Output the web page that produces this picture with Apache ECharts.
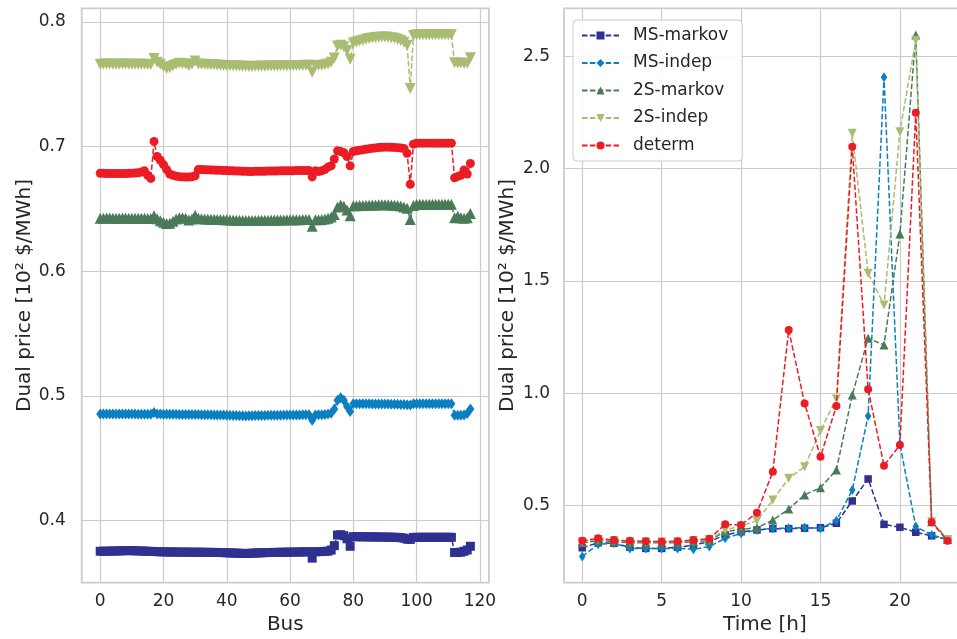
<!DOCTYPE html>
<html>
<head>
<meta charset="utf-8">
<script src="https://cdn.jsdelivr.net/npm/echarts@6/dist/echarts.min.js"></script>
<style>
  html, body { margin: 0; padding: 0; background: #ffffff; }
  #chart { width: 957px; height: 639px; }
</style>
</head>
<body>
<div id="chart"></div>
<script>
// ---- Dual prices per bus (left panel), one value per bus 0..117 ----
const busMsMarkov = [
  0.3755, 0.3755, 0.3756, 0.3756, 0.3757, 0.3757, 0.3758, 0.3759, 0.3760, 0.3760,
  0.3760, 0.3759, 0.3758, 0.3757, 0.3756, 0.3755, 0.3754, 0.3753, 0.3752, 0.3751,
  0.3750, 0.3750, 0.3749, 0.3749, 0.3749, 0.3748, 0.3748, 0.3748, 0.3748, 0.3747,
  0.3748, 0.3747, 0.3747, 0.3747, 0.3746, 0.3746, 0.3746, 0.3745, 0.3745, 0.3744,
  0.3743, 0.3742, 0.3741, 0.3740, 0.3739, 0.3738, 0.3737, 0.3738, 0.3740, 0.3741,
  0.3742, 0.3743, 0.3744, 0.3745, 0.3745, 0.3746, 0.3746, 0.3747, 0.3747, 0.3748,
  0.3748, 0.3748, 0.3749, 0.3749, 0.3750, 0.3750, 0.3751, 0.3700, 0.3751, 0.3752,
  0.3753, 0.3754, 0.3756, 0.3765, 0.3800, 0.3885, 0.3888, 0.3880, 0.3855, 0.3795,
  0.3872, 0.3872, 0.3871, 0.3871, 0.3871, 0.3870, 0.3870, 0.3870, 0.3869, 0.3869,
  0.3869, 0.3868, 0.3868, 0.3867, 0.3866, 0.3864, 0.3860, 0.3852, 0.3850, 0.3866,
  0.3867, 0.3867, 0.3867, 0.3867, 0.3867, 0.3867, 0.3867, 0.3867, 0.3867, 0.3867,
  0.3867, 0.3867, 0.3745, 0.3745, 0.3748, 0.3755, 0.3765, 0.3795
];
const busMsIndep = [
  0.4855, 0.4855, 0.4856, 0.4856, 0.4856, 0.4855, 0.4855, 0.4856, 0.4856, 0.4855,
  0.4855, 0.4855, 0.4854, 0.4854, 0.4854, 0.4853, 0.4853, 0.4868, 0.4856, 0.4855,
  0.4854, 0.4854, 0.4853, 0.4853, 0.4853, 0.4852, 0.4852, 0.4852, 0.4851, 0.4851,
  0.4852, 0.4851, 0.4850, 0.4850, 0.4849, 0.4849, 0.4848, 0.4848, 0.4847, 0.4847,
  0.4846, 0.4845, 0.4844, 0.4843, 0.4842, 0.4841, 0.4840, 0.4841, 0.4842, 0.4843,
  0.4843, 0.4844, 0.4844, 0.4845, 0.4845, 0.4846, 0.4846, 0.4846, 0.4847, 0.4847,
  0.4847, 0.4848, 0.4848, 0.4848, 0.4849, 0.4849, 0.4850, 0.4805, 0.4848, 0.4850,
  0.4850, 0.4852, 0.4855, 0.4862, 0.4895, 0.4965, 0.4985, 0.4965, 0.4915, 0.4875,
  0.4938, 0.4938, 0.4938, 0.4937, 0.4937, 0.4937, 0.4936, 0.4936, 0.4936, 0.4935,
  0.4935, 0.4935, 0.4934, 0.4934, 0.4933, 0.4932, 0.4931, 0.4929, 0.4927, 0.4937,
  0.4938, 0.4938, 0.4938, 0.4938, 0.4938, 0.4938, 0.4938, 0.4938, 0.4938, 0.4938,
  0.4938, 0.4938, 0.4845, 0.4845, 0.4846, 0.4848, 0.4860, 0.4895
];
const bus2sMarkov = [
  0.6425, 0.6425, 0.6426, 0.6426, 0.6425, 0.6425, 0.6425, 0.6426, 0.6426, 0.6425,
  0.6425, 0.6425, 0.6424, 0.6424, 0.6424, 0.6423, 0.6423, 0.6445, 0.6420, 0.6405,
  0.6392, 0.6383, 0.6385, 0.6400, 0.6418, 0.6428, 0.6428, 0.6425, 0.6410, 0.6418,
  0.6448, 0.6425, 0.6420, 0.6419, 0.6418, 0.6417, 0.6416, 0.6415, 0.6414, 0.6413,
  0.6412, 0.6411, 0.6410, 0.6409, 0.6408, 0.6407, 0.6406, 0.6406, 0.6407, 0.6407,
  0.6408, 0.6408, 0.6409, 0.6409, 0.6410, 0.6410, 0.6410, 0.6411, 0.6411, 0.6412,
  0.6412, 0.6412, 0.6413, 0.6413, 0.6414, 0.6414, 0.6415, 0.6360, 0.6412, 0.6412,
  0.6415, 0.6418, 0.6425, 0.6435, 0.6455, 0.6515, 0.6532, 0.6522, 0.6490, 0.6445,
  0.6525, 0.6526, 0.6527, 0.6528, 0.6529, 0.6530, 0.6531, 0.6532, 0.6533, 0.6534,
  0.6534, 0.6533, 0.6532, 0.6530, 0.6528, 0.6524, 0.6515, 0.6505, 0.6415, 0.6528,
  0.6537, 0.6537, 0.6537, 0.6537, 0.6537, 0.6537, 0.6537, 0.6537, 0.6537, 0.6537,
  0.6537, 0.6537, 0.6428, 0.6440, 0.6428, 0.6425, 0.6428, 0.6462
];
const bus2sIndep = [
  0.7660, 0.7660, 0.7661, 0.7661, 0.7660, 0.7660, 0.7660, 0.7661, 0.7661, 0.7660,
  0.7660, 0.7660, 0.7659, 0.7659, 0.7659, 0.7658, 0.7658, 0.7705, 0.7675, 0.7660,
  0.7640, 0.7625, 0.7632, 0.7648, 0.7658, 0.7668, 0.7665, 0.7662, 0.7650, 0.7660,
  0.7685, 0.7662, 0.7660, 0.7659, 0.7657, 0.7656, 0.7655, 0.7653, 0.7652, 0.7650,
  0.7649, 0.7648, 0.7647, 0.7646, 0.7645, 0.7644, 0.7643, 0.7642, 0.7642, 0.7643,
  0.7643, 0.7644, 0.7644, 0.7645, 0.7645, 0.7646, 0.7646, 0.7647, 0.7647, 0.7648,
  0.7648, 0.7649, 0.7649, 0.7650, 0.7650, 0.7651, 0.7652, 0.7595, 0.7648, 0.7650,
  0.7652, 0.7655, 0.7662, 0.7675, 0.7710, 0.7805, 0.7812, 0.7800, 0.7770, 0.7700,
  0.7830, 0.7838, 0.7845, 0.7852, 0.7860, 0.7865, 0.7870, 0.7874, 0.7876, 0.7878,
  0.7878, 0.7876, 0.7872, 0.7868, 0.7860, 0.7850, 0.7835, 0.7812, 0.7465, 0.7890,
  0.7895, 0.7895, 0.7895, 0.7895, 0.7895, 0.7895, 0.7895, 0.7895, 0.7895, 0.7895,
  0.7895, 0.7895, 0.7672, 0.7668, 0.7670, 0.7665, 0.7668, 0.7712
];
const busDeterm = [
  0.6785, 0.6785, 0.6784, 0.6784, 0.6784, 0.6784, 0.6783, 0.6783, 0.6784, 0.6785,
  0.6786, 0.6788, 0.6790, 0.6795, 0.6805, 0.6770, 0.6744, 0.7041, 0.6920, 0.6890,
  0.6855, 0.6815, 0.6780, 0.6770, 0.6762, 0.6758, 0.6756, 0.6755, 0.6755, 0.6757,
  0.6765, 0.6815, 0.6815, 0.6814, 0.6813, 0.6812, 0.6811, 0.6810, 0.6809, 0.6808,
  0.6807, 0.6806, 0.6805, 0.6804, 0.6803, 0.6802, 0.6801, 0.6800, 0.6800, 0.6801,
  0.6801, 0.6802, 0.6802, 0.6803, 0.6803, 0.6804, 0.6804, 0.6805, 0.6805, 0.6806,
  0.6806, 0.6806, 0.6807, 0.6807, 0.6807, 0.6808, 0.6808, 0.6756, 0.6805, 0.6800,
  0.6805, 0.6815, 0.6835, 0.6845, 0.6900, 0.6965, 0.6960, 0.6950, 0.6920, 0.6845,
  0.6960, 0.6966, 0.6970, 0.6974, 0.6978, 0.6982, 0.6986, 0.6989, 0.6992, 0.6994,
  0.6995, 0.6995, 0.6994, 0.6993, 0.6991, 0.6988, 0.6985, 0.6945, 0.6697, 0.7019,
  0.7027, 0.7027, 0.7027, 0.7027, 0.7027, 0.7027, 0.7027, 0.7027, 0.7027, 0.7027,
  0.7027, 0.7027, 0.6749, 0.6760, 0.6770, 0.6812, 0.6780, 0.6864
];

// ---- Dual prices per hour (right panel) ----
const hours = [0, 1, 2, 3, 4, 5, 6, 7, 8, 9, 10, 11, 12, 13, 14, 15, 16, 17, 18, 19, 20, 21, 22, 23];
const hourMsMarkov = [0.313, 0.335, 0.333, 0.315, 0.310, 0.310, 0.315, 0.325, 0.340, 0.370, 0.384, 0.392,
                      0.398, 0.398, 0.400, 0.402, 0.422, 0.521, 0.619, 0.417, 0.404, 0.382, 0.366, 0.350];
const hourMsIndep = [0.274, 0.328, 0.333, 0.310, 0.310, 0.310, 0.310, 0.306, 0.318, 0.355, 0.377, 0.392,
                     0.400, 0.400, 0.402, 0.400, 0.433, 0.570, 0.899, 2.406, 0.775, 0.407, 0.370, 0.350];
const hour2sMarkov = [0.335, 0.345, 0.340, 0.335, 0.335, 0.335, 0.335, 0.340, 0.345, 0.385, 0.395, 0.402,
                      0.436, 0.485, 0.548, 0.580, 0.659, 0.992, 1.245, 1.215, 1.709, 2.594, 0.429, 0.350];
const hour2sIndep = [0.340, 0.350, 0.345, 0.340, 0.340, 0.340, 0.340, 0.345, 0.350, 0.392, 0.410, 0.433,
                     0.525, 0.622, 0.673, 0.834, 0.975, 2.157, 1.534, 1.393, 2.164, 2.571, 0.429, 0.350];
const hourDeterm = [0.344, 0.355, 0.347, 0.344, 0.342, 0.340, 0.342, 0.347, 0.353, 0.417, 0.414, 0.469,
                    0.651, 1.282, 0.955, 0.718, 0.943, 2.097, 1.018, 0.678, 0.770, 2.248, 0.426, 0.344];

// ---- Tick labels ----
const busTicks = [0, 20, 40, 60, 80, 100, 120];
const busPriceTicks = [0.4, 0.5, 0.6, 0.7, 0.8];
const hourTicks = [0, 5, 10, 15, 20];
const hourPriceTicks = [0.5, 1.0, 1.5, 2.0, 2.5];

const seriesNames = ['MS-markov', 'MS-indep', '2S-markov', '2S-indep', 'determ'];

// ---- Styling ----
const FONT = 'DejaVu Sans';
const TEXT = '#262626';
const EDGE = '#cccccc';
const colors = ['#2e3192', '#0a7fc2', '#4a7a58', '#a9bc72', '#ec1c24'];
const symbols = ['rect', 'diamond', 'triangle', 'triangle', 'circle'];
const rotations = [0, 0, 0, 180, 0];
const dash = [5.5, 2.4];

const busValues = [busMsMarkov, busMsIndep, bus2sMarkov, bus2sIndep, busDeterm];
const hourValues = [hourMsMarkov, hourMsIndep, hour2sMarkov, hour2sIndep, hourDeterm];
const busSymbolSize = [9, [8, 11], 11, 11, 9];
const hourSymbolSize = [7.5, [6.5, 10], 9, 9, 8];

function lineSeries(k, data, idx, size) {
  return {
    name: seriesNames[k],
    type: 'line',
    xAxisIndex: idx,
    yAxisIndex: idx,
    data: data,
    symbol: symbols[k],
    symbolRotate: rotations[k],
    symbolSize: size,
    showSymbol: true,
    showAllSymbol: true,
    z: 2 + k * 0.01,
    lineStyle: { color: colors[k], width: 1.5, type: dash },
    itemStyle: { color: colors[k], borderWidth: 0 },
    emphasis: { disabled: true }
  };
}

const series = [];
// right panel first so the legend picks up its marker styles
hourValues.forEach((vals, k) => {
  series.push(lineSeries(k, vals.map((v, i) => [hours[i], v]), 1, hourSymbolSize[k]));
});
busValues.forEach((vals, k) => {
  series.push(lineSeries(k, vals.map((v, i) => [i, v]), 0, busSymbolSize[k]));
});

function valueAxis(opts) {
  return Object.assign({
    type: 'value',
    axisLine: { show: false },
    axisTick: { show: false, customValues: opts.ticks },
    splitLine: { show: true, lineStyle: { color: EDGE, width: 1.2 } },
    axisLabel: {
      customValues: opts.ticks,
      color: TEXT, fontFamily: FONT, fontSize: 17, margin: opts.margin,
      formatter: opts.fmt
    },
    nameLocation: 'middle',
    nameTextStyle: { color: TEXT, fontFamily: FONT, fontSize: 20 }
  }, opts.extra);
}

const chart = echarts.init(document.getElementById('chart'), null, { renderer: 'canvas' });
chart.setOption({
  animation: false,
  backgroundColor: '#ffffff',
  textStyle: { fontFamily: FONT },
  grid: [
    { left: 81.7, top: 8.3, width: 407.2, height: 574.4, show: true, borderColor: EDGE, borderWidth: 1.8,
      backgroundColor: 'transparent', outerBoundsMode: 'none', containLabel: false },
    { left: 564, top: 8.3, width: 401.8, height: 574.4, show: true, borderColor: EDGE, borderWidth: 1.8,
      backgroundColor: 'transparent', outerBoundsMode: 'none', containLabel: false }
  ],
  legend: {
    data: seriesNames,
    orient: 'vertical',
    left: 573,
    top: 20,
    padding: [7, 14, 7, 8],
    itemGap: 10.5,
    itemWidth: 37,
    itemHeight: 10,
    backgroundColor: 'rgba(255,255,255,0.85)',
    borderColor: EDGE,
    borderWidth: 1,
    borderRadius: 4,
    textStyle: { color: TEXT, fontFamily: FONT, fontSize: 17, padding: [0, 0, 0, 9] }
  },
  xAxis: [
    valueAxis({ ticks: busTicks, margin: 10, fmt: v => String(v),
      extra: { gridIndex: 0, min: -5.85, max: 122.85, name: 'Bus', nameGap: 32 } }),
    valueAxis({ ticks: hourTicks, margin: 10, fmt: v => String(v),
      extra: { gridIndex: 1, min: -1.15, max: 24.15, name: 'Time [h]', nameGap: 32 } })
  ],
  yAxis: [
    valueAxis({ ticks: busPriceTicks, margin: 16, fmt: v => v.toFixed(1),
      extra: { gridIndex: 0, min: 0.3503, max: 0.8108, name: 'Dual price [10² $/MWh]', nameGap: 47 } }),
    valueAxis({ ticks: hourPriceTicks, margin: 14, fmt: v => v.toFixed(1),
      extra: { gridIndex: 1, min: 0.1575, max: 2.7126, name: 'Dual price [10² $/MWh]', nameGap: 46 } })
  ],
  series: series
});
</script>
</body>
</html>
